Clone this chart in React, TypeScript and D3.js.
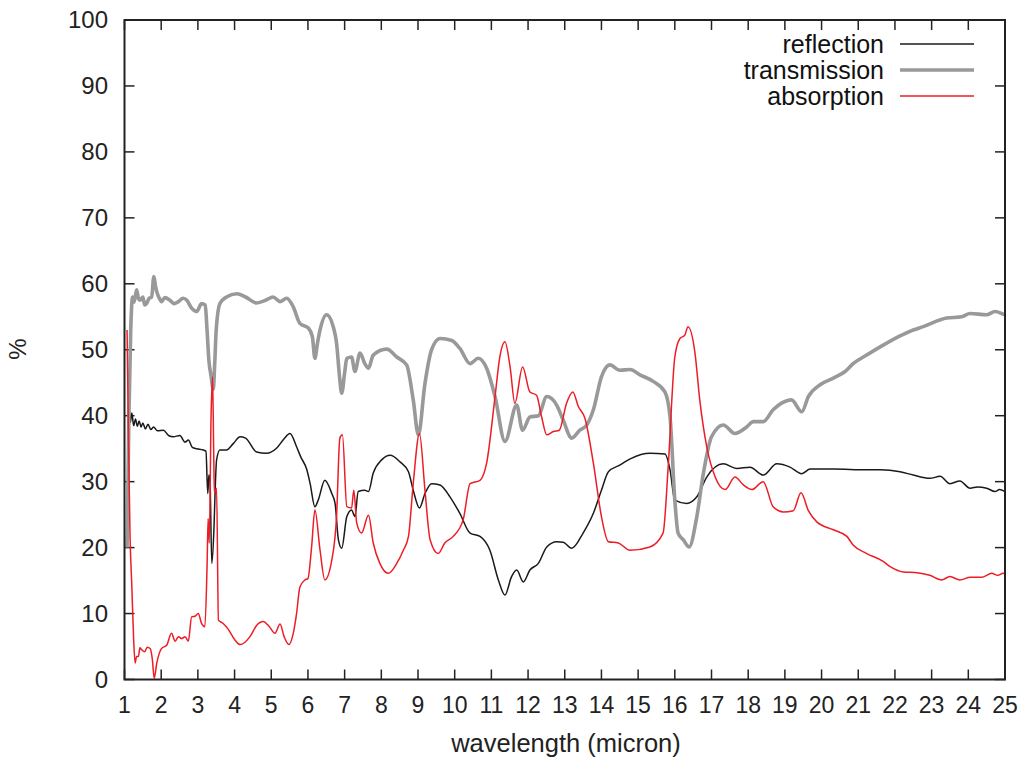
import React from "react";
import * as d3 from "d3";

type P = [number, number];

const xTicks: number[] = d3.range(1, 26);
const yTicks: number[] = [0, 10, 20, 30, 40, 50, 60, 70, 80, 90, 100];
const seriesNames: string[] = ["reflection", "transmission", "absorption"];

const transmission: P[] = [
  [1.07, 20], [1.12, 40], [1.17, 53], [1.22, 58], [1.26, 57.2], [1.33, 59.1], [1.38, 57.8], [1.42, 57.5],
  [1.5, 58], [1.55, 56.8], [1.6, 57.0], [1.67, 57.8], [1.74, 58], [1.8, 61.1], [1.85, 59.5], [1.89, 58.6],
  [1.95, 57.8], [2.01, 57.3], [2.1, 57.9], [2.24, 57.5], [2.35, 57.0], [2.47, 57.3], [2.6, 57.8], [2.7, 57.5],
  [2.83, 56.3], [2.97, 55.8], [3.1, 57.0], [3.2, 56.8], [3.25, 53], [3.3, 48.4], [3.36, 46], [3.42, 44],
  [3.46, 48], [3.5, 53], [3.6, 57], [3.78, 58], [4.06, 58.5], [4.3, 58], [4.6, 57.1], [4.85, 57.5],
  [5.05, 58], [5.24, 57.3], [5.42, 57.8], [5.6, 56.5], [5.78, 54], [6.01, 53.3], [6.12, 52], [6.19, 48.7],
  [6.26, 51], [6.33, 53], [6.51, 55.3], [6.69, 53.5], [6.78, 51], [6.86, 46], [6.92, 43.4], [7.0, 46.5],
  [7.06, 48.7], [7.19, 48.9], [7.28, 46.7], [7.42, 49.5], [7.55, 47.9], [7.65, 47.2], [7.78, 49.2],
  [8.15, 50.1], [8.42, 48.9], [8.69, 47.7], [8.87, 42.4], [9.01, 37.1], [9.19, 44.9], [9.37, 50], [9.6, 51.7],
  [9.92, 51.4], [10.14, 50.2], [10.42, 47.9], [10.64, 48.7], [10.87, 47.2], [11.1, 42.9], [11.37, 36.1],
  [11.69, 41.6], [11.85, 37.8], [12.05, 39.8], [12.28, 40.0], [12.51, 42.9], [12.78, 41.6], [12.96, 39.3],
  [13.19, 36.6], [13.41, 37.8], [13.6, 38.6], [13.78, 40.9], [14.0, 45.9], [14.23, 47.7], [14.5, 46.9],
  [14.78, 47.0], [15.05, 46.2], [15.41, 45.2], [15.73, 43.6], [15.87, 39.8], [16.0, 27.2], [16.09, 22.2],
  [16.23, 21.2], [16.39, 20.1], [16.6, 24.7], [16.78, 31.3], [17.0, 36.8], [17.32, 38.6], [17.64, 37.3],
  [17.96, 38.3], [18.14, 39.1], [18.41, 39.1], [18.68, 40.9], [18.91, 41.9], [19.18, 42.4], [19.46, 40.6],
  [19.64, 42.9], [19.96, 44.7], [20.32, 45.7], [20.64, 46.7], [20.86, 47.9], [21.23, 49.2], [21.68, 50.7],
  [22.14, 52.1], [22.5, 53], [22.77, 53.5], [23.41, 54.8], [23.82, 55.0], [24.05, 55.5], [24.5, 55.3],
  [24.73, 55.8], [24.95, 55.4], [25.0, 55.3],
];

const reflection: P[] = [
  [1.07, 25], [1.1, 34], [1.13, 40.8], [1.16, 39], [1.2, 40.4], [1.25, 38.5], [1.3, 39.5], [1.35, 38.4],
  [1.4, 39.2], [1.45, 38.3], [1.5, 38.9], [1.57, 38.0], [1.64, 38.7], [1.72, 37.9], [1.79, 38.3], [1.9, 37.7],
  [2.06, 37.8], [2.2, 37.0], [2.33, 36.8], [2.51, 37.0], [2.65, 36.0], [2.74, 36.3], [2.85, 35.2], [2.97, 35.0],
  [3.15, 34.8], [3.22, 34.6], [3.27, 28.2], [3.3, 31], [3.33, 30.2], [3.38, 17.6], [3.44, 23.2], [3.47, 28.5],
  [3.51, 33.3], [3.6, 34.8], [3.78, 34.8], [3.97, 35.8], [4.15, 36.8], [4.3, 36.6], [4.6, 34.5], [4.87, 34.3],
  [5.15, 35.1], [5.35, 36.5], [5.51, 37.3], [5.69, 35.3], [5.8, 33.8], [5.97, 31.8], [6.06, 29.7], [6.19, 26.2],
  [6.28, 27.2], [6.46, 30.2], [6.65, 28.2], [6.74, 26.7], [6.83, 21.2], [6.92, 19.9], [7.06, 24.7], [7.19, 25.7],
  [7.28, 24.7], [7.37, 28.5], [7.55, 28.7], [7.65, 28.5], [7.78, 31.3], [8.01, 33.3], [8.24, 34.0], [8.51, 33.0],
  [8.74, 31.5], [8.87, 28.7], [9.04, 26.0], [9.19, 28.2], [9.37, 29.7], [9.6, 29.5], [9.87, 27.7], [10.14, 25.2],
  [10.42, 22.2], [10.69, 21.7], [10.96, 19.6], [11.19, 15.1], [11.37, 12.8], [11.55, 15.6], [11.69, 16.6],
  [11.87, 14.8], [12.05, 16.6], [12.28, 17.6], [12.51, 20.1], [12.78, 20.9], [12.96, 20.8], [13.19, 19.9],
  [13.5, 22.2], [13.78, 25.2], [14.0, 28.7], [14.19, 31.5], [14.5, 32.5], [14.8, 33.5], [15.32, 34.3],
  [15.73, 34.2], [15.87, 31.8], [16.0, 27.2], [16.32, 26.7], [16.6, 27.7], [16.87, 30.7], [17.32, 32.7],
  [17.69, 32.0], [18.05, 32.2], [18.41, 31.0], [18.78, 32.7], [19.14, 32.2], [19.46, 31.2], [19.69, 31.9],
  [20.32, 31.9], [21.23, 31.8], [21.6, 31.8], [22.14, 31.5], [22.5, 31.0], [22.95, 30.5], [23.23, 30.8],
  [23.5, 29.7], [23.77, 30.1], [24.05, 29.0], [24.25, 29.2], [24.5, 29.0], [24.73, 28.5], [24.85, 28.8],
  [25.0, 28.5],
];

const absorption: P[] = [
  [1.07, 53], [1.1, 40], [1.15, 22], [1.2, 14.1], [1.25, 6], [1.29, 2.5], [1.33, 3.5], [1.38, 3.5],
  [1.42, 4.8], [1.47, 4.5], [1.55, 4.2], [1.62, 4.9], [1.7, 4.7], [1.76, 3], [1.81, 0.2], [1.88, 2.5],
  [1.95, 4.0], [2.01, 4.7], [2.15, 5.2], [2.28, 7.0], [2.38, 5.8], [2.47, 6.5], [2.56, 6.2], [2.65, 6.5],
  [2.74, 5.8], [2.83, 9.5], [2.92, 9.6], [3.01, 10], [3.1, 8.5], [3.19, 8.0], [3.25, 17.1], [3.28, 24.4],
  [3.31, 20.7], [3.36, 40], [3.4, 45.9], [3.43, 35], [3.45, 28.2], [3.51, 29], [3.56, 9.0], [3.69, 8.5],
  [3.83, 7.6], [4.01, 6.0], [4.15, 5.3], [4.42, 6.5], [4.6, 8.2], [4.78, 8.8], [4.95, 8.0], [5.1, 7.0],
  [5.24, 8.4], [5.35, 6.5], [5.48, 5.3], [5.6, 7], [5.69, 10], [5.78, 14], [5.92, 15.1], [6.0, 15.3],
  [6.1, 20.1], [6.19, 25.7], [6.33, 19.6], [6.46, 15.1], [6.65, 18.1], [6.78, 24.7], [6.87, 36.6],
  [6.94, 37.1], [7.06, 26.2], [7.19, 26.0], [7.25, 28.7], [7.33, 23.7], [7.46, 22.2], [7.65, 24.9],
  [7.78, 20.7], [7.96, 17.6], [8.19, 16.1], [8.42, 17.6], [8.6, 19.6], [8.74, 21.7], [8.87, 29.7],
  [9.04, 37.3], [9.19, 28.7], [9.33, 21.2], [9.55, 19.1], [9.73, 20.7], [9.96, 21.7], [10.23, 24.2],
  [10.42, 29.7], [10.69, 30.2], [10.87, 32.8], [11.1, 42.9], [11.23, 48.9], [11.37, 51.2], [11.51, 47.4],
  [11.64, 41.9], [11.85, 47.4], [12.05, 43.6], [12.23, 43.1], [12.37, 39.8], [12.51, 37.1], [12.69, 37.6],
  [12.85, 37.8], [13.05, 41.9], [13.22, 43.6], [13.37, 41.4], [13.55, 39.6], [13.78, 32.8], [14.0, 24.7],
  [14.19, 20.9], [14.46, 20.7], [14.78, 19.6], [15.32, 20.1], [15.68, 22.2], [15.82, 32.3], [16.0, 48.9],
  [16.14, 51.7], [16.27, 52.2], [16.36, 53.5], [16.55, 49.5], [16.68, 42.4], [16.87, 35.3], [17.1, 30.7],
  [17.37, 28.8], [17.64, 30.7], [17.87, 29.5], [18.1, 28.8], [18.41, 30.0], [18.68, 26.2], [18.96, 25.4],
  [19.23, 25.6], [19.44, 28.3], [19.64, 25.6], [19.87, 23.9], [20.32, 22.7], [20.69, 21.7], [20.86, 20.4],
  [21.23, 19.1], [21.68, 17.9], [21.87, 17.1], [22.23, 16.3], [22.6, 16.2], [22.95, 15.8], [23.27, 15.1],
  [23.5, 15.6], [23.77, 15.1], [24.05, 15.5], [24.36, 15.5], [24.64, 16.1], [24.8, 15.8], [24.95, 16.1],
  [25.0, 16.0],
];

const W = 1028;
const H = 762;
const L = 124.5;
const R = 1005;
const T = 20;
const B = 679.5;
const FONT = "'Liberation Sans', Arial, Helvetica, sans-serif";

export default function App() {
  const x = d3.scaleLinear().domain([1, 25]).range([L, R]);
  const y = d3.scaleLinear().domain([0, 100]).range([B, T]);
  const line = d3
    .line<P>()
    .x((d) => x(d[0]))
    .y((d) => y(d[1]))
    .curve(d3.curveMonotoneX);

  const styles = [
    { data: reflection, color: "#1a1a1a", width: 1.5 },
    { data: transmission, color: "#999999", width: 3.6 },
    { data: absorption, color: "#ee1c25", width: 1.5 },
  ];

  const axisColor = "#222";
  const tickLen = 10;

  return (
    <svg
      width={W}
      height={H}
      style={{ position: "absolute", left: 0, top: 0, background: "#fff" }}
      fontFamily={FONT}
    >
      <defs>
        <clipPath id="plot">
          <rect x={L} y={T} width={R - L} height={B - T} />
        </clipPath>
      </defs>
      <rect x={0} y={0} width={W} height={H} fill="#fff" />

      {xTicks.map((t) => (
        <g key={"xt" + t}>
          <line x1={x(t)} x2={x(t)} y1={B} y2={B - tickLen} stroke={axisColor} strokeWidth={1.5} />
          <line x1={x(t)} x2={x(t)} y1={T} y2={T + tickLen} stroke={axisColor} strokeWidth={1.5} />
          <text x={x(t)} y={713} textAnchor="middle" fontSize={23} fill="#222">
            {t}
          </text>
        </g>
      ))}
      {yTicks.map((t) => (
        <g key={"yt" + t}>
          <line x1={L} x2={L + tickLen} y1={y(t)} y2={y(t)} stroke={axisColor} strokeWidth={1.5} />
          <line x1={R} x2={R - tickLen} y1={y(t)} y2={y(t)} stroke={axisColor} strokeWidth={1.5} />
          <text x={108} y={y(t) + 8} textAnchor="end" fontSize={24} fill="#222">
            {t}
          </text>
        </g>
      ))}

      <g clipPath="url(#plot)">
        {styles.map((s, i) => (
          <path
            key={i}
            d={line(s.data) || ""}
            fill="none"
            stroke={s.color}
            strokeWidth={s.width}
            strokeLinejoin="round"
          />
        ))}
      </g>

      <rect x={L} y={T} width={R - L} height={B - T} fill="none" stroke={axisColor} strokeWidth={2} />

      {styles.map((s, i) => {
        const ly = 44 + i * 26;
        return (
          <g key={"lg" + i}>
            <text x={884} y={ly + 8.5} textAnchor="end" fontSize={25} fill="#111">
              {seriesNames[i]}
            </text>
            <line x1={900} x2={974} y1={ly} y2={ly} stroke={s.color} strokeWidth={s.width} />
          </g>
        );
      })}

      <text x={566} y={752} textAnchor="middle" fontSize={25.5} fill="#222">
        wavelength (micron)
      </text>
      <text
        transform={`translate(26, 349) rotate(-90)`}
        textAnchor="middle"
        fontSize={24}
        fill="#222"
      >
        %
      </text>
    </svg>
  );
}
